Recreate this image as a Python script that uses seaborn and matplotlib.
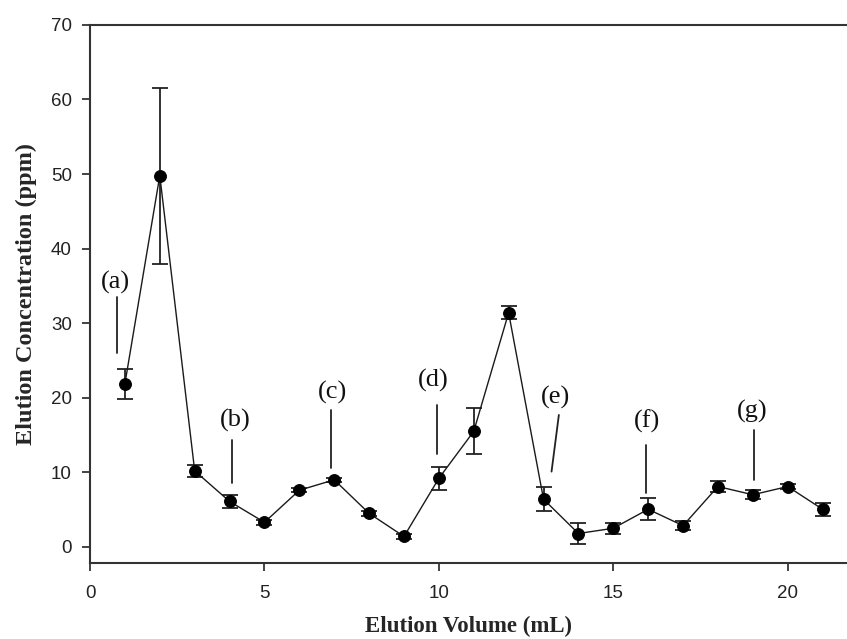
import matplotlib
matplotlib.use("Agg")
import matplotlib.pyplot as plt
import seaborn as sns
import pandas as pd

# Data
volume = [1, 2, 3, 4, 5, 6, 7, 8, 9, 10, 11, 12, 13, 14, 15, 16, 17, 18, 19, 20, 21]
conc = [21.9, 49.8, 10.2, 6.1, 3.3, 7.6, 9.0, 4.5, 1.4, 9.2, 15.5, 31.4, 6.4, 1.8, 2.5, 5.05, 2.85, 8.1, 7.0, 8.1, 5.05]
err = [2.0, 11.8, 0.8, 0.9, 0.3, 0.3, 0.3, 0.3, 0.4, 1.55, 3.1, 0.9, 1.6, 1.4, 0.7, 1.5, 0.6, 0.8, 0.6, 0.3, 0.85]

labels = ["(a)", "(b)", "(c)", "(d)", "(e)", "(f)", "(g)"]
label_x = [0.72, 4.15, 6.96, 9.83, 13.35, 15.96, 18.97]
label_y = [35.5, 17.0, 20.65, 22.3, 20.1, 16.9, 18.1]
line_x0 = [0.78, 4.06, 6.92, 9.96, 13.44, 15.93, 19.03]
line_x1 = [0.78, 4.06, 6.92, 9.96, 13.23, 15.93, 19.03]
line_y0 = [33.5, 14.35, 18.3, 19.0, 17.7, 13.7, 15.7]
line_y1 = [26.0, 8.6, 10.55, 12.4, 10.1, 7.2, 9.0]

x_ticks = [0, 5, 10, 15, 20]
y_ticks = [0, 10, 20, 30, 40, 50, 60, 70]

df = pd.DataFrame({"Volume": volume, "Conc": conc, "Err": err})

sns.set_style("ticks")
plt.rcParams["font.family"] = ["Liberation Sans", "DejaVu Sans"]

fig = plt.figure(figsize=(8.47, 6.39), dpi=100)
ax = fig.add_axes([0.1063, 0.119, 0.8937, 0.842])

ax.errorbar(df["Volume"], df["Conc"], yerr=df["Err"], fmt="none",
            ecolor="#222222", elinewidth=1.3, capsize=5.5, capthick=1.3, zorder=2)
sns.lineplot(data=df, x="Volume", y="Conc", ax=ax, color="#1a1a1a",
             linewidth=1.0, marker="o", markersize=8.5, markerfacecolor="black",
             markeredgecolor="black", zorder=3)

for lab, lx, ly, x0, x1, y0, y1 in zip(labels, label_x, label_y, line_x0, line_x1, line_y0, line_y1):
    ax.text(lx, ly, lab, ha="center", va="center", fontsize=19,
            family=["Liberation Serif", "DejaVu Serif"], color="#111111")
    ax.plot([x0, x1], [y0, y1], color="#222222", linewidth=1.3)

ax.set_xlim(0, 21.7)
ax.set_ylim(-2.15, 70)
ax.set_xticks(x_ticks)
ax.set_yticks(y_ticks)
ax.tick_params(axis="both", direction="out", length=6, width=1.2, labelsize=13.5,
               colors="#222222")
ax.tick_params(axis="y", pad=7)
ax.tick_params(axis="x", pad=10)

for s in ["left", "bottom", "top"]:
    ax.spines[s].set_linewidth(1.5)
    ax.spines[s].set_color("#333333")
ax.spines["right"].set_visible(False)

ax.set_xlabel("Elution Volume (mL)", fontsize=16.5, fontweight="bold",
              family=["Liberation Serif", "DejaVu Serif"], labelpad=10)
ax.set_ylabel("Elution Concentration (ppm)", fontsize=17.5, fontweight="bold",
              family=["Liberation Serif", "DejaVu Serif"], labelpad=10)

fig.savefig("out.png", dpi=100)
